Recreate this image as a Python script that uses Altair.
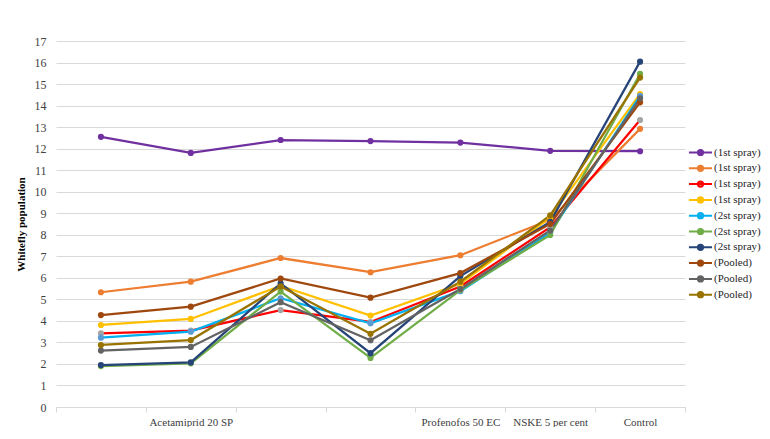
import altair as alt
import pandas as pd

cat_keys = ["T1", "T2", "T3", "T4", "T5", "T6", "T7"]
cat_labels = ["", "Acetamiprid 20 SP", "", "", "Profenofos 50 EC", "NSKE 5 per cent", "Control"]

series_keys = ["s1", "s2", "s3", "s4", "s5", "s6", "s7", "s8", "s9", "s10"]
series_labels = ["(1st spray)", "(1st spray)", "(1st spray)", "(1st spray)",
                 "(2st spray)", "(2st spray)", "(2st spray)",
                 "(Pooled)", "(Pooled)", "(Pooled)"]
line_colors = ["#7030A0", "#ED7D31", "#FF0000", "#FFC000", "#00B0F0",
               "#70AD47", "#264478", "#9E480E", "#636363", "#997300"]
marker_colors = ["#7030A0", "#ED7D31", "#A5A5A5", "#FFC000", "#5B9BD5",
                 "#70AD47", "#264478", "#9E480E", "#636363", "#997300"]

s1 = [12.55, 11.80, 12.40, 12.35, 12.28, 11.90, 11.88]
s2 = [5.33, 5.82, 6.92, 6.26, 7.05, 8.70, 12.92]
s3 = [3.42, 3.55, 4.50, 3.95, 5.60, 8.35, 13.33]
s4 = [3.81, 4.09, 5.62, 4.25, 5.72, 8.80, 14.54]
s5 = [3.22, 3.50, 5.05, 3.89, 5.38, 8.10, 14.45]
s6 = [1.90, 2.03, 5.36, 2.28, 5.43, 7.99, 15.47]
s7 = [1.95, 2.07, 5.74, 2.50, 6.08, 8.60, 16.04]
s8 = [4.27, 4.66, 5.97, 5.08, 6.22, 8.50, 14.15]
s9 = [2.62, 2.79, 4.87, 3.10, 5.48, 8.20, 14.34]
s10 = [2.88, 3.11, 5.60, 3.40, 5.82, 8.90, 15.30]
all_series = [s1, s2, s3, s4, s5, s6, s7, s8, s9, s10]

rows = []
for key, vals in zip(series_keys, all_series):
    for c, v in zip(cat_keys, vals):
        rows.append({"series": key, "cat": c, "value": v})
df = pd.DataFrame(rows)

FONT = "Liberation Serif"

def arr(lst):
    return "[" + ",".join("'" + s + "'" for s in lst) + "]"

x_label_expr = f"{arr(cat_labels)}[indexof({arr(cat_keys)}, datum.value)]"
leg_label_expr = f"{arr(series_labels)}[indexof({arr(series_keys)}, datum.value)]"

sym_path = ("M-2.2,0L2.2,0M-0.5,0a0.5,0.5 0 1,0 1,0"
            "a0.5,0.5 0 1,0 -1,0")

legend = alt.Legend(
    title=None, orient="none", legendX=638, legendY=105,
    labelExpr=leg_label_expr, symbolType=sym_path, symbolSize=110,
    symbolStrokeWidth=2, labelFont=FONT, labelFontSize=11,
    labelColor="#262626", labelOffset=7, rowPadding=0.8, padding=0,
)

x = alt.X(
    "cat:N", sort=cat_keys,
    scale=alt.Scale(type="band", paddingInner=0, paddingOuter=0),
    bandPosition=0.5,
    axis=alt.Axis(
        title=None, tickBand="extent", labelExpr=x_label_expr, grid=False,
        domainColor="#D9D9D9", tickColor="#D9D9D9", tickSize=5,
        labelPadding=4, labelAngle=0, labelFont=FONT, labelFontSize=11,
        labelColor="#404040",
    ),
)
y = alt.Y(
    "value:Q",
    scale=alt.Scale(domain=[0, 17], nice=False, zero=True),
    axis=alt.Axis(
        values=list(range(18)), title="Whitefly population", titleFont=FONT,
        titleFontSize=11, titleFontWeight="bold", titleColor="#000000",
        titlePadding=8, labelFont=FONT, labelFontSize=12, labelColor="#404040",
        labelPadding=10, ticks=False, domain=False, gridColor="#D9D9D9",
    ),
)

lines = alt.Chart(df).mark_line(strokeWidth=2.25).encode(
    x=x, y=y,
    stroke=alt.Stroke("series:N", sort=series_keys,
                      scale=alt.Scale(domain=series_keys, range=line_colors),
                      legend=legend),
)
points = alt.Chart(df).mark_circle(size=38, opacity=1).encode(
    x=x, y=y,
    fill=alt.Fill("series:N", sort=series_keys,
                  scale=alt.Scale(domain=series_keys, range=marker_colors),
                  legend=legend),
)

chart = (lines + points).properties(
    width=629, height=366,
    autosize=alt.AutoSizeParams(type="none"),
    padding={"left": 48, "top": 33, "right": 77, "bottom": 20},
).configure_view(stroke=None)

chart.save("out.html", embed_options={"renderer": "svg", "actions": False})
